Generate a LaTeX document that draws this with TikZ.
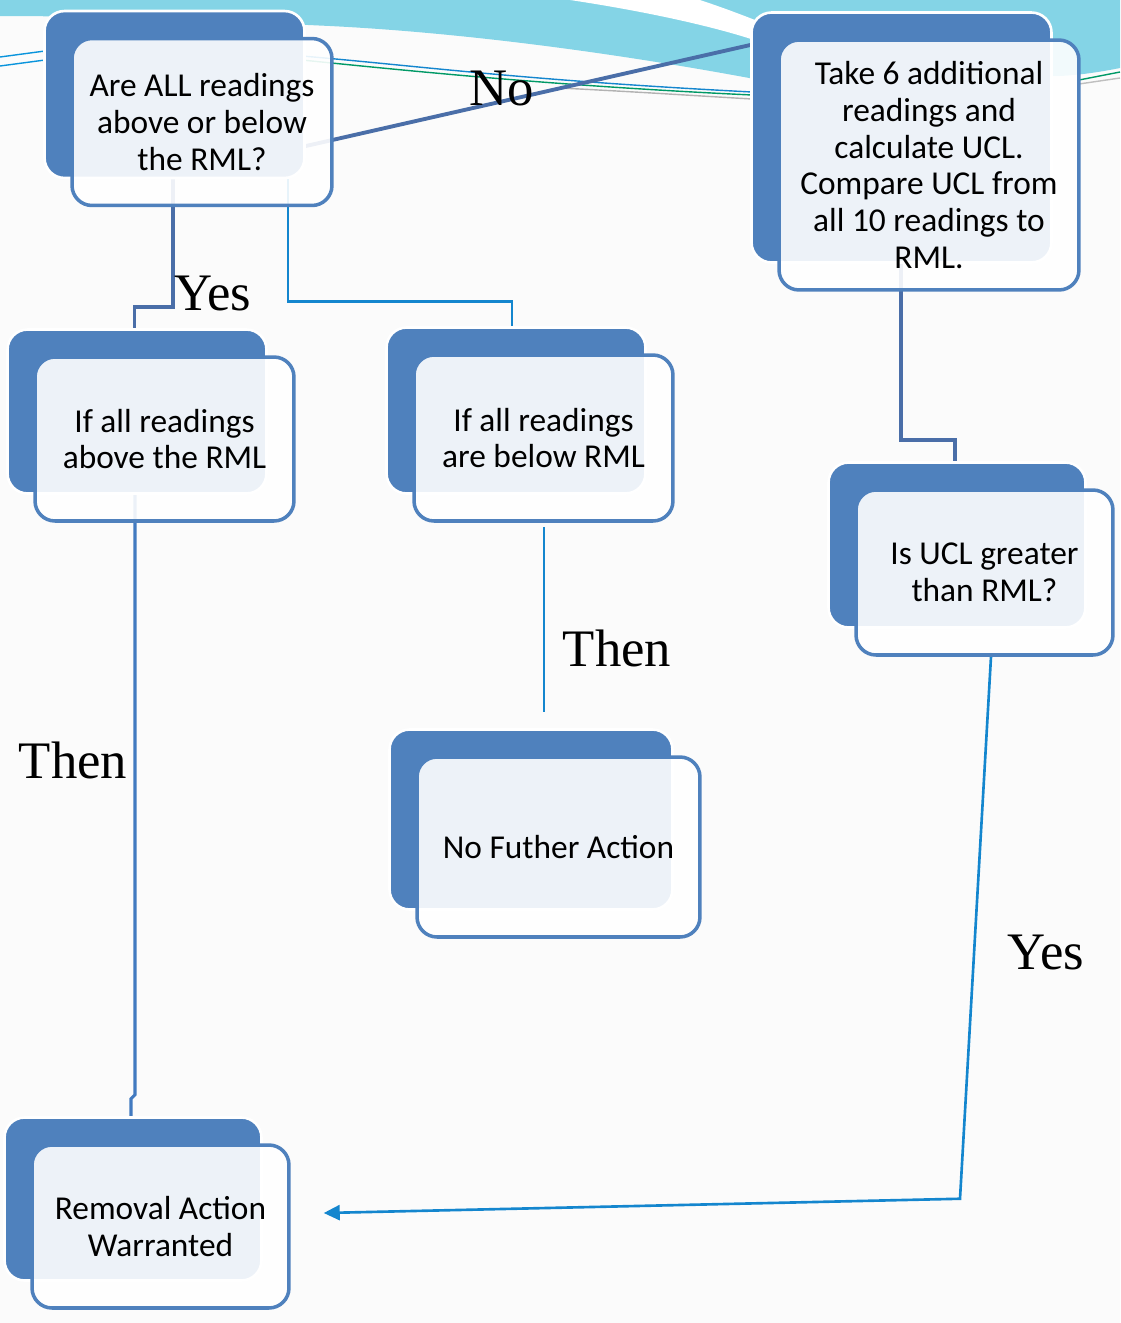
\documentclass[tikz,border=0pt]{standalone}
\usepackage{fontspec}
\setmainfont{Carlito}
\newfontfamily\labelfont{Liberation Serif}
\usetikzlibrary{shadows,arrows.meta}

\definecolor{boxblue}{RGB}{79,129,189}
\definecolor{linkdark}{RGB}{74,110,168}
\definecolor{linklight}{RGB}{20,134,206}
\definecolor{linkmid}{RGB}{66,122,192}
\definecolor{swoosh}{RGB}{132,212,230}
\definecolor{paper}{RGB}{251,251,251}

\pgfdeclarelayer{back}
\pgfdeclarelayer{links}
\pgfsetlayers{back,links,main}

\tikzset{
  block/.style={draw=boxblue, line width=2pt, rounded corners=0.4cm,
    fill=white, fill opacity=0.9, text opacity=1, align=center,
    font=\fontsize{19}{21}\selectfont, inner sep=0pt,
    copy shadow={shadow xshift=-0.55cm, shadow yshift=0.55cm,
      fill=boxblue, fill opacity=1, draw=white, line width=1.5pt}},
  answer/.style={font=\labelfont\fontsize{30}{32}\selectfont},
  darklink/.style={draw=linkdark, line width=2.2pt},
  lightlink/.style={draw=linklight, line width=1.5pt},
}

\begin{document}
\begin{tikzpicture}[x=0.02cm, y=-0.02cm]
\useasboundingbox (0,0) rectangle (1120,1323);

% boxes
\node[block, minimum width=5.2cm, minimum height=3.34cm] (ask) at (202,122) {Are ALL readings\\above or below\\the RML?};
\node[block, minimum width=6cm, minimum height=5cm] (more) at (929,165) {Take 6 additional\\readings and\\calculate UCL.\\Compare UCL from\\all 10 readings to\\RML.};
\node[block, minimum width=5.18cm, minimum height=3.28cm] (above) at (164.5,439) {If all readings\\above the RML};
\node[block, minimum width=5.18cm, minimum height=3.32cm] (below) at (543.5,438) {If all readings\\are below RML};
\node[block, minimum width=5.14cm, minimum height=3.3cm] (ucl) at (984.5,572.5) {Is UCL greater\\than RML?};
\node[block, minimum width=5.66cm, minimum height=3.6cm] (none) at (558.5,847) {No Futher Action};
\node[block, minimum width=5.14cm, minimum height=3.26cm] (remove) at (160.5,1226.5) {Removal Action\\Warranted};

% labels
\node[answer] (yesleft) at (213,293) {Yes};
\node[answer] (no) at (502,88) {No};
\node[answer] (thenleft) at (73,760) {Then};
\node[answer] (thenmid) at (617,648) {Then};
\node[answer] (yesright) at (1046,952) {Yes};

% connectors
\begin{pgfonlayer}{links}
  \draw[darklink] ([shift={(-29,-30)}]ask.south) -- ++(0,130) -| ([shift={(-30,-27)}]above.north);
  \draw[lightlink] ([shift={(86,-30)}]ask.south) -- ++(0,124) -| ([shift={(-31.5,-25)}]below.north);
  \draw[darklink] ([shift={(-30,24.5)}]ask.east) -- ([shift={(-27,-120)}]more.west);
  \draw[darklink] ([shift={(-28,-30)}]more.south) -- ++(0,178) -| ([shift={(-29.5,-27)}]ucl.north);
  \draw[draw=linkmid, line width=1.8pt] ([shift={(-29.5,-28)}]above.south) -- ++(0,600) -- ++(-4,4) -- ([shift={(-29.5,-25)}]remove.north);
  \draw[lightlink] ([shift={(0.5,4)}]below.south) -- ++(0,185);
  \draw[lightlink, -{Triangle[length=0.32cm,width=0.3cm]}] ([shift={(6.5,0)}]ucl.south) -- ++(-31,542) -- ([shift={(33,-13.5)}]remove.east);
\end{pgfonlayer}

% background
\begin{pgfonlayer}{back}
  \fill[paper] (0,0) rectangle (1120,1323);
  \fill[swoosh] (0,0) -- (1120,0) -- (1120,68) .. controls (1100,72) and (1080,75) .. (1060,76) -- (760,80)
    .. controls (600,50) and (450,32) .. (330,26) .. controls (200,20) and (100,16) .. (0,16) -- cycle;
  \fill[white] (570,0) .. controls (650,12) and (720,28) .. (760,42) -- (760,22) .. controls (735,12) and (715,5) .. (700,0) -- cycle;
  \draw[cyan!80!blue, line width=0.8pt] (0,57) -- (45,51);
  \draw[cyan!80!blue, line width=0.8pt] (0,66) -- (45,60);
  \draw[linklight, line width=0.8pt] (302,56) .. controls (420,66) and (520,80) .. (752,92);
  \draw[teal!80!green, line width=0.8pt] (302,60) .. controls (420,72) and (560,86) .. (752,95);
  \draw[gray!60, line width=0.8pt] (560,88) .. controls (640,92) and (700,96) .. (752,99);
  \draw[teal!80!green, line width=0.8pt] (1079,80) -- (1120,72);
  \draw[gray!50, line width=0.8pt] (1079,84) -- (1120,78);
\end{pgfonlayer}
\end{tikzpicture}
\end{document}
